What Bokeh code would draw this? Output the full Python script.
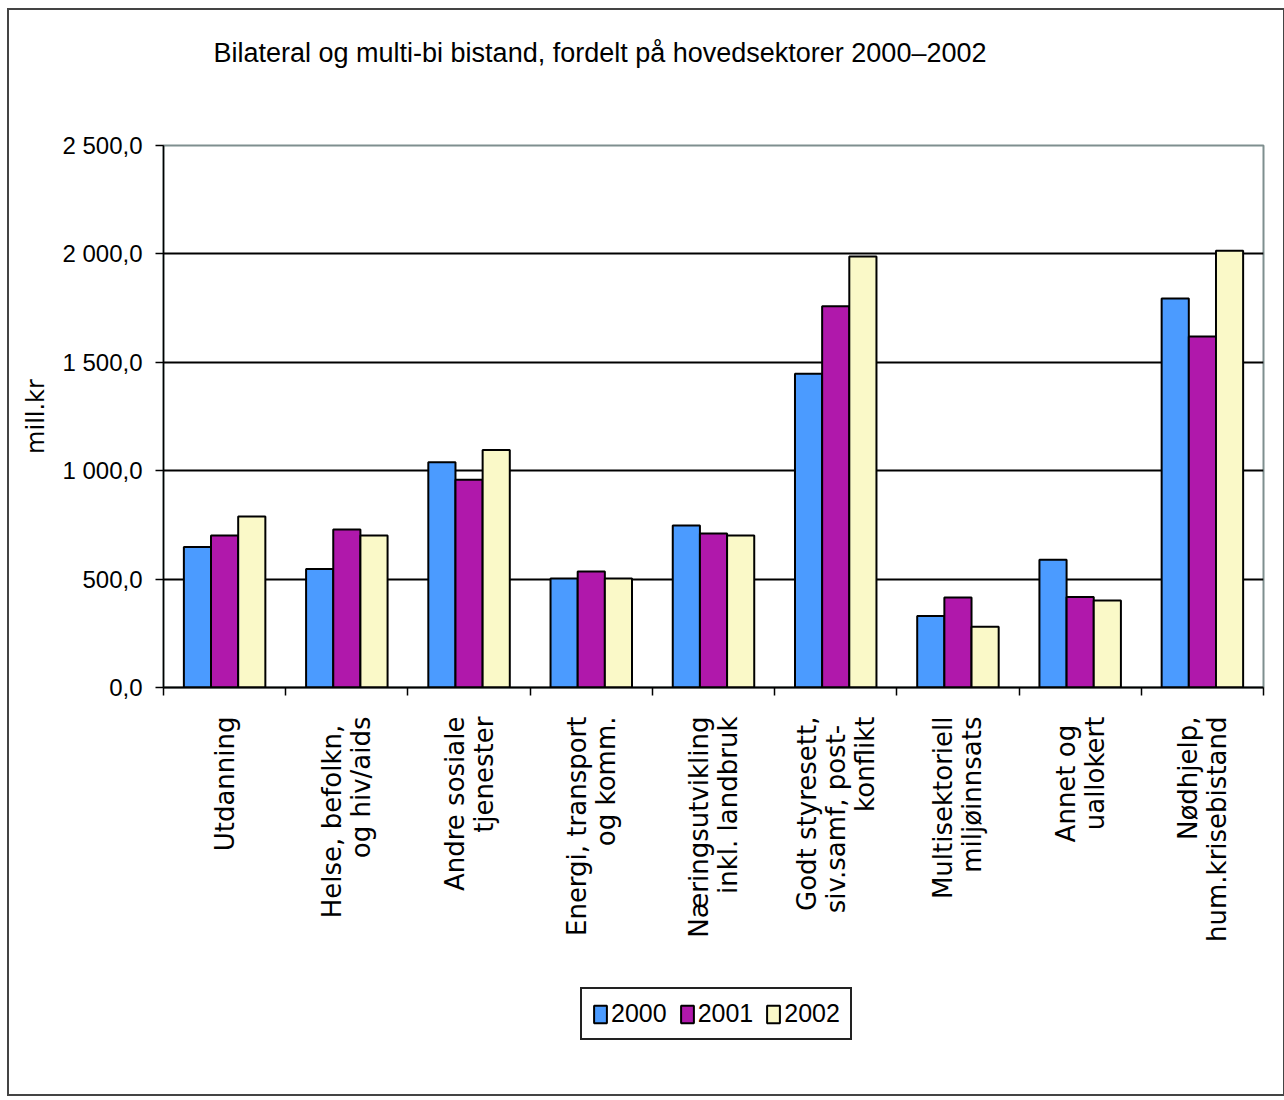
import numpy as np
from bokeh.plotting import figure
from bokeh.layouts import column
from bokeh.models import (Range1d, FixedTicker, Legend, LegendItem, ColumnDataSource)
from bokeh.embed import file_html
from bokeh.resources import INLINE

title_text = "Bilateral og multi-bi bistand, fordelt på hovedsektorer 2000–2002"
y_axis_title = "mill.kr"
categories = [
    "Utdanning",
    "Helse,  befolkn,\nog hiv/aids",
    "Andre sosiale\ntjenester",
    "Energi, transport\nog komm.",
    "Næringsutvikling\ninkl. landbruk",
    "Godt styresett,\nsiv.samf,  post-\nkonflikt",
    "Multisektoriell\nmiljøinnsats",
    "Annet  og\nuallokert",
    "Nødhjelp,\nhum.krisebistand",
]
years = ["2000", "2001", "2002"]
v2000 = [648, 547, 1039, 503, 747, 1447, 330, 589, 1794]
v2001 = [701, 729, 958, 535, 710, 1759, 415, 418, 1619]
v2002 = [789, 701, 1096, 503, 701, 1988, 280, 401, 2015]
y_ticks = [0, 500, 1000, 1500, 2000, 2500]
y_tick_labels = ["0,0", "500,0", "1 000,0", "1 500,0", "2 000,0", "2 500,0"]

colors = ["#4b9bff", "#b018ab", "#faf9c8"]

W, HT, H1, H2 = 1274, 80, 890, 114
ML, MR, MT, MB = 154, 20, 55, 293
n = len(categories)
ymax = 2500
frame_w = W - ML - MR
line_gap = 29 / (frame_w / n)   # spacing of wrapped label lines, in x units

# ---- title strip ----
pt = figure(width=W, height=HT, output_backend="svg", toolbar_location=None,
            x_range=Range1d(0, 1), y_range=Range1d(0, 1),
            min_border_left=ML, min_border_right=MR, min_border_top=62, min_border_bottom=0,
            x_axis_location=None, y_axis_location=None,
            background_fill_color="white", border_fill_color="white", title=title_text)
pt.outline_line_color = None
pt.xgrid.visible = False
pt.ygrid.visible = False
pt.title.text_font = "Liberation Sans"
pt.title.text_font_size = "27px"
pt.title.text_font_style = "normal"
pt.title.text_color = "black"
pt.title.align = "left"
pt.title.offset = 50
pt.title.standoff = 10

# ---- main chart ----
p = figure(width=W, height=H1, output_backend="svg", toolbar_location=None,
           x_range=Range1d(0, n), y_range=Range1d(0, ymax),
           min_border_left=ML, min_border_right=MR, min_border_top=MT, min_border_bottom=MB,
           background_fill_color="white", border_fill_color="white")

xa = p.below[0]
ya = p.left[0]

p.outline_line_color = "#7f8f8f"
p.outline_line_width = 2

# y axis
ya.ticker = FixedTicker(ticks=y_ticks)
ya.major_label_overrides = {t: l for t, l in zip(y_ticks, y_tick_labels)}
ya.major_label_text_font = "Liberation Sans"
ya.major_label_text_font_size = "24px"
ya.major_label_text_color = "black"
ya.major_label_standoff = 13
ya.major_tick_out = 8
ya.major_tick_in = 0
ya.minor_tick_line_color = None
ya.axis_line_color = "black"
ya.axis_line_width = 1.5
ya.major_tick_line_width = 1.5
ya.axis_label = y_axis_title
ya.axis_label_text_font = "DejaVu Sans"
ya.axis_label_text_font_size = "24px"
ya.axis_label_text_font_style = "normal"
ya.axis_label_text_color = "black"
ya.axis_label_standoff = 9

# x axis: each wrapped line of a category name is a label; boundary ticks are minor ticks
centers = np.arange(n) + 0.5
label_pos, label_txt = [], []
for c, cat in zip(centers, categories):
    lines = cat.split("\n")
    k = len(lines)
    for j, ln in enumerate(lines):
        label_pos.append(round(float(c + (j - (k - 1) / 2) * line_gap), 6))
        label_txt.append(ln)
xa.ticker = FixedTicker(ticks=label_pos, minor_ticks=list(range(n + 1)))
xa.major_label_overrides = {pos: t for pos, t in zip(label_pos, label_txt)}
xa.major_label_orientation = np.pi / 2
xa.major_label_text_font = "DejaVu Sans"
xa.major_label_text_font_size = "26px"
xa.major_label_text_color = "black"
xa.major_label_standoff = 21
xa.major_tick_line_color = None
xa.major_tick_out = 0
xa.major_tick_in = 0
xa.minor_tick_out = 8
xa.minor_tick_in = 0
xa.minor_tick_line_color = "black"
xa.minor_tick_line_width = 1.5
xa.axis_line_color = "black"
xa.axis_line_width = 2

p.xgrid.grid_line_color = None
p.ygrid.ticker = FixedTicker(ticks=y_ticks[1:-1])
p.ygrid.grid_line_color = "black"
p.ygrid.grid_line_width = 2

# bars
bw = 1 / 4.5
series = [v2000, v2001, v2002]
sources = []
for i, (vals, col) in enumerate(zip(series, colors)):
    src = ColumnDataSource(dict(x=centers + (i - 1) * bw, top=vals))
    sources.append(src)
    p.vbar(x="x", top="top", width=bw, bottom=0, source=src,
           fill_color=col, line_color="black", line_width=2)

# ---- legend strip (hidden proxy renderers supply the legend swatches) ----
pl = figure(width=W, height=H2, output_backend="svg", toolbar_location=None,
            x_range=Range1d(0, n), y_range=Range1d(0, ymax),
            min_border_left=ML, min_border_right=MR, min_border_top=0, min_border_bottom=0,
            x_axis_location=None, y_axis_location=None,
            background_fill_color="white", border_fill_color="white")
pl.outline_line_color = None
pl.xgrid.visible = False
pl.ygrid.visible = False
items = []
for src, col, yr in zip(sources, colors, years):
    r = pl.vbar(x="x", top="top", width=bw, bottom=0, source=src,
                fill_color=col, line_color="black", line_width=2, visible=False)
    items.append(LegendItem(label=yr, renderers=[r]))
legend = Legend(items=items, orientation="horizontal", location=(417, 54),
                label_text_font="Liberation Sans", label_text_font_size="25px",
                label_text_color="black", inactive_fill_alpha=0,
                glyph_width=16, glyph_height=22, label_standoff=3, spacing=12,
                padding=10, margin=0, border_line_color="#222222", border_line_width=2,
                border_line_alpha=1.0,
                background_fill_color="white", background_fill_alpha=1.0, label_height=26)
pl.add_layout(legend, "center")

lay = column(pt, p, pl, spacing=0,
             styles={"border": "2px solid #444444", "margin-left": "7px", "margin-top": "8px"})

open("out.html", "w").write(file_html(lay, INLINE))
